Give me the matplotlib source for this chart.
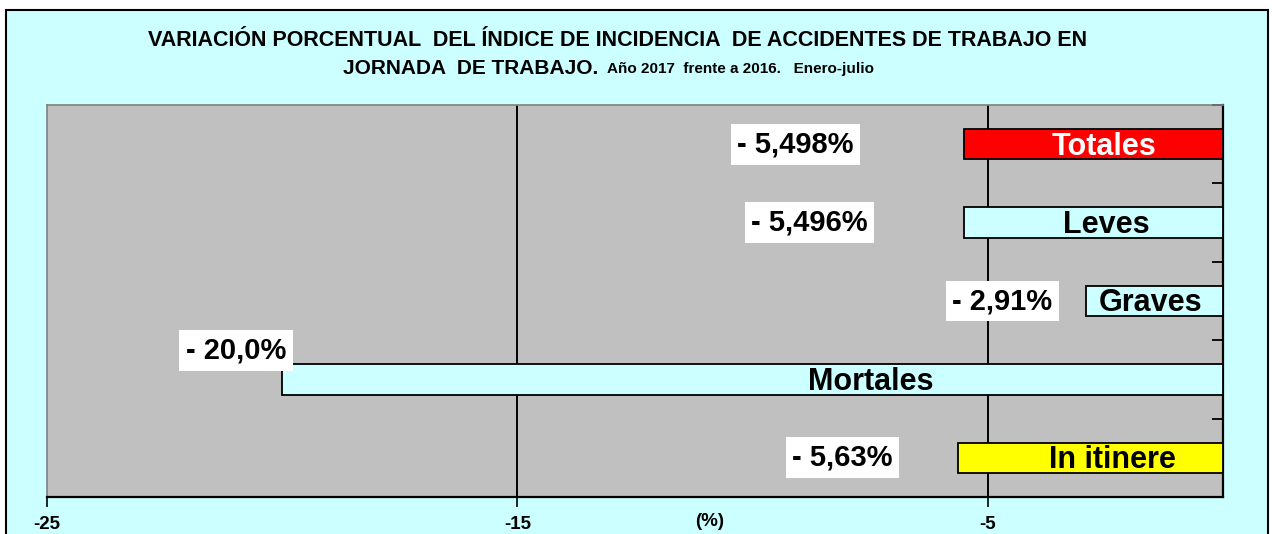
import matplotlib

matplotlib.use("Agg")
import matplotlib.pyplot as plt
import numpy as np
from matplotlib.patches import Rectangle

# datos (variación % del índice de incidencia, 2017 vs 2016, enero-julio)
CATEGORIAS = ["Totales", "Leves", "Graves", "Mortales", "In itinere"]
VARIACION = [-5.498, -5.496, -2.91, -20.0, -5.63]
ETIQUETAS = ["- 5,498%", "- 5,496%", "- 2,91%", "- 20,0%", "- 5,63%"]
X_TICKS = [-25, -15, -5]

# estilo / colocación
COLORES = ["#FF0000", "#CCFFFF", "#CCFFFF", "#CCFFFF", "#FFFF00"]
COLOR_TEXTO = ["white", "black", "black", "black", "black"]
X_ETIQ_VALOR = [-9.09, -8.79, -4.69, -20.98, -8.09]
DY_ETIQ_VALOR = [0.0, 0.0, 0.0, -0.37, 0.0]
X_ETIQ_CAT = [-2.52, -2.49, -1.54, -7.48, -2.35]

FONDO = "#CCFFFF"
GRIS = "#C0C0C0"
FONT = ["Liberation Sans", "DejaVu Sans"]

W, H = 1272, 534
fig = plt.figure(figsize=(W / 100, H / 100), dpi=100, facecolor="white")
fig.add_artist(Rectangle((6 / W, -0.05), (1268 - 6) / W, (534 - 10) / H + 0.05,
                         transform=fig.transFigure, facecolor=FONDO,
                         edgecolor="black", lw=1.5, zorder=-5))

ax = fig.add_axes([47 / W, 1 - 497 / H, (1223 - 47) / W, (497 - 105) / H])
ax.set_facecolor(GRIS)

y = np.arange(len(CATEGORIAS))
ax.barh(y, VARIACION, height=0.39, color=COLORES, edgecolor="black",
        linewidth=1.3, zorder=3)

for i in range(len(CATEGORIAS)):
    ax.text(X_ETIQ_CAT[i], y[i] + 0.03, CATEGORIAS[i], ha="center", va="center",
            fontsize=22, fontweight="bold", color=COLOR_TEXTO[i],
            family=FONT, zorder=4)
    ax.text(X_ETIQ_VALOR[i], y[i] + DY_ETIQ_VALOR[i], ETIQUETAS[i],
            ha="center", va="center", fontsize=21, fontweight="bold",
            family=FONT, zorder=5,
            bbox=dict(boxstyle="square,pad=0.22", facecolor="white",
                      edgecolor="none"))

ax.set_xlim(-25, 0)
ax.set_ylim(len(CATEGORIAS) - 0.5, -0.5)
ax.set_xticks(X_TICKS)
ax.set_xticklabels([str(t) for t in X_TICKS], fontsize=13.5, fontweight="bold",
                   family=FONT)
ax.tick_params(axis="x", direction="out", length=7, width=1.2, pad=7)
for xv in X_TICKS[1:]:
    ax.axvline(xv, color="black", lw=1.4, zorder=1)

ax.yaxis.tick_right()
ax.set_yticks(np.arange(len(CATEGORIAS) + 1) - 0.5)
ax.tick_params(axis="y", direction="in", length=8, width=1.3, labelright=False)

for side in ("left", "top"):
    ax.spines[side].set_color("#808080")
    ax.spines[side].set_linewidth(1.2)
for side in ("bottom", "right"):
    ax.spines[side].set_color("black")
    ax.spines[side].set_linewidth(1.6)

fig.text(710 / W, 1 - 521 / H, "(%)", ha="center", va="center", fontsize=13.5,
         fontweight="bold", family=FONT)

fig.text(618 / W, 1 - 40 / H,
         "VARIACIÓN PORCENTUAL  DEL ÍNDICE DE INCIDENCIA  DE ACCIDENTES DE TRABAJO EN",
         ha="center", va="center", fontsize=15.5, fontweight="bold", family=FONT)
fig.text(598 / W, 1 - 68 / H, "JORNADA  DE TRABAJO.", ha="right", va="center",
         fontsize=15, fontweight="bold", family=FONT)
fig.text(607 / W, 1 - 69 / H, "Año 2017  frente a 2016.   Enero-julio",
         ha="left", va="center", fontsize=11, fontweight="bold", family=FONT)

fig.savefig("out.png", dpi=100, facecolor=fig.get_facecolor())
